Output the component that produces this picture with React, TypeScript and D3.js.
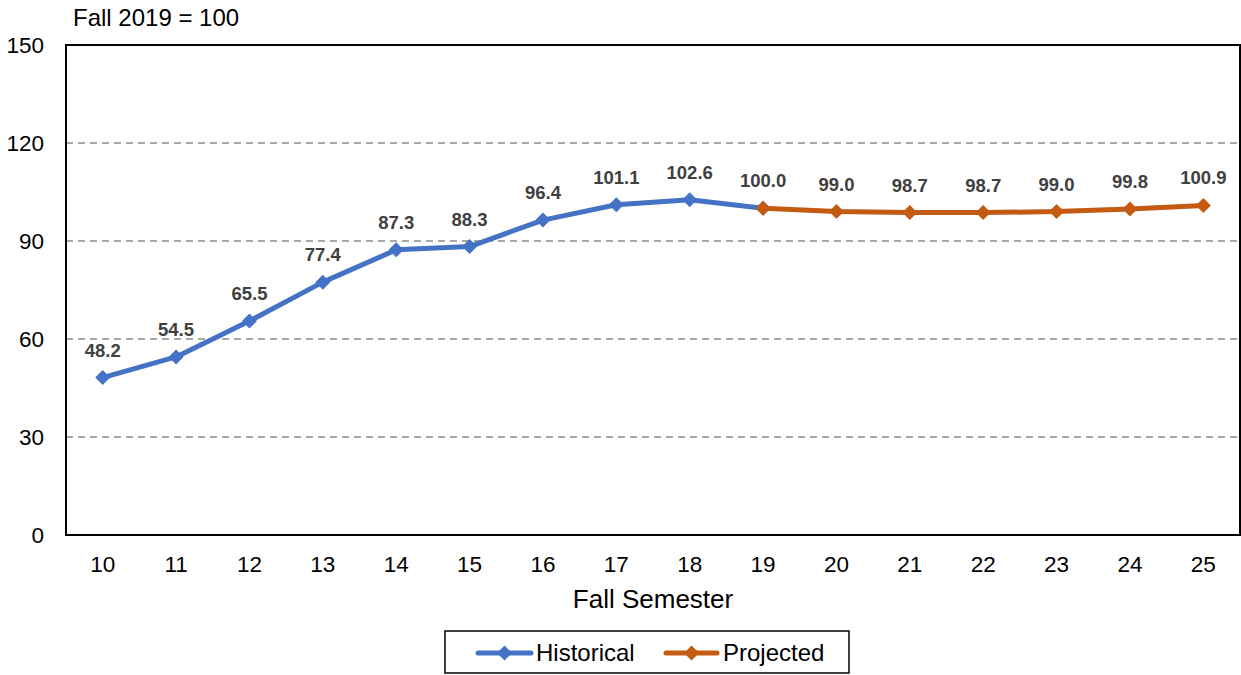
import React, { useEffect, useRef } from 'react';
import * as d3 from 'd3';

const years = ['10', '11', '12', '13', '14', '15', '16', '17', '18', '19', '20', '21', '22', '23', '24', '25'];
const historical = [48.2, 54.5, 65.5, 77.4, 87.3, 88.3, 96.4, 101.1, 102.6, 100.0];
const projected = [100.0, 99.0, 98.7, 98.7, 99.0, 99.8, 100.9];
const yTicks = [0, 30, 60, 90, 120, 150];

const BLUE = '#4472C4';
const ORANGE = '#C55A11';
const FONT = '"Liberation Sans", Arial, sans-serif';

const App = () => {
  const ref = useRef(null);

  useEffect(() => {
    document.body.style.margin = '0';
    const svg = d3.select(ref.current);
    svg.selectAll('*').remove();

    const left = 66, right = 1240, top = 45, bottom = 535;
    const x = d3.scaleBand().domain(years).range([left, right]);
    const y = d3.scaleLinear().domain([0, 150]).range([bottom, top]);
    const cx = (d: string) => (x(d) as number) + x.bandwidth() / 2;

    // gridlines
    svg.append('g')
      .selectAll('line')
      .data(yTicks.filter(t => t > 0 && t < 150))
      .enter().append('line')
      .attr('x1', left).attr('x2', right)
      .attr('y1', d => y(d)).attr('y2', d => y(d))
      .attr('stroke', '#8c8c8c').attr('stroke-width', 1.5)
      .attr('stroke-dasharray', '7,5');

    // plot frame
    svg.append('rect')
      .attr('x', left).attr('y', top)
      .attr('width', right - left).attr('height', bottom - top)
      .attr('fill', 'none').attr('stroke', '#000').attr('stroke-width', 2);

    // y labels
    svg.append('g')
      .selectAll('text')
      .data(yTicks)
      .enter().append('text')
      .attr('x', 44).attr('y', d => y(d) + 8)
      .attr('text-anchor', 'end')
      .style('font-family', FONT).style('font-size', '22.5px')
      .text(d => d);

    // x labels
    svg.append('g')
      .selectAll('text')
      .data(years)
      .enter().append('text')
      .attr('x', d => cx(d)).attr('y', 572)
      .attr('text-anchor', 'middle')
      .style('font-family', FONT).style('font-size', '22.5px')
      .text(d => d);

    svg.append('text')
      .attr('x', 73).attr('y', 26)
      .style('font-family', FONT).style('font-size', '24px')
      .text('Fall 2019 = 100');

    svg.append('text')
      .attr('x', (left + right) / 2).attr('y', 608)
      .attr('text-anchor', 'middle')
      .style('font-family', FONT).style('font-size', '26px')
      .text('Fall Semester');

    const diamond = 'M0,-7.5L7.5,0L0,7.5L-7.5,0Z';

    const drawSeries = (vals: number[], cats: string[], color: string) => {
      const pts = vals.map((v, i) => ({ c: cats[i], v }));
      const line = d3.line<any>().x(d => cx(d.c)).y(d => y(d.v));
      svg.append('path')
        .datum(pts)
        .attr('d', line)
        .attr('fill', 'none').attr('stroke', color)
        .attr('stroke-width', 5).attr('stroke-linejoin', 'round').attr('stroke-linecap', 'round');
      svg.append('g')
        .selectAll('path')
        .data(pts)
        .enter().append('path')
        .attr('d', diamond)
        .attr('transform', d => `translate(${cx(d.c)},${y(d.v)})`)
        .attr('fill', color);
    };

    const histCats = years.slice(0, historical.length);
    const projCats = years.slice(historical.length - 1);
    drawSeries(historical, histCats, BLUE);
    drawSeries(projected, projCats, ORANGE);

    // data labels
    const labels = [
      ...historical.map((v, i) => ({ c: histCats[i], v })),
      ...projected.slice(1).map((v, i) => ({ c: projCats[i + 1], v })),
    ];
    svg.append('g')
      .selectAll('text')
      .data(labels)
      .enter().append('text')
      .attr('x', d => cx(d.c)).attr('y', d => y(d.v) - 21)
      .attr('text-anchor', 'middle')
      .style('font-family', FONT).style('font-size', '18.5px').style('font-weight', 'bold')
      .attr('fill', '#404040')
      .text(d => d.v.toFixed(1));

    // legend
    const lg = svg.append('g');
    lg.append('rect')
      .attr('x', 445).attr('y', 631).attr('width', 404).attr('height', 42)
      .attr('fill', '#fff').attr('stroke', '#000').attr('stroke-width', 1.5);
    const items = [
      { name: 'Historical', color: BLUE, x1: 478, x2: 531, tx: 536 },
      { name: 'Projected', color: ORANGE, x1: 666, x2: 717, tx: 723 },
    ];
    items.forEach(it => {
      lg.append('line')
        .attr('x1', it.x1).attr('x2', it.x2).attr('y1', 653).attr('y2', 653)
        .attr('stroke', it.color).attr('stroke-width', 5).attr('stroke-linecap', 'round');
      lg.append('path')
        .attr('d', diamond)
        .attr('transform', `translate(${(it.x1 + it.x2) / 2},653)`)
        .attr('fill', it.color);
      lg.append('text')
        .attr('x', it.tx).attr('y', 661)
        .style('font-family', FONT).style('font-size', '24px')
        .text(it.name);
    });
  }, []);

  return <svg ref={ref} width={1241} height={675} style={{ display: 'block', background: '#fff' }} />;
};

export default App;
